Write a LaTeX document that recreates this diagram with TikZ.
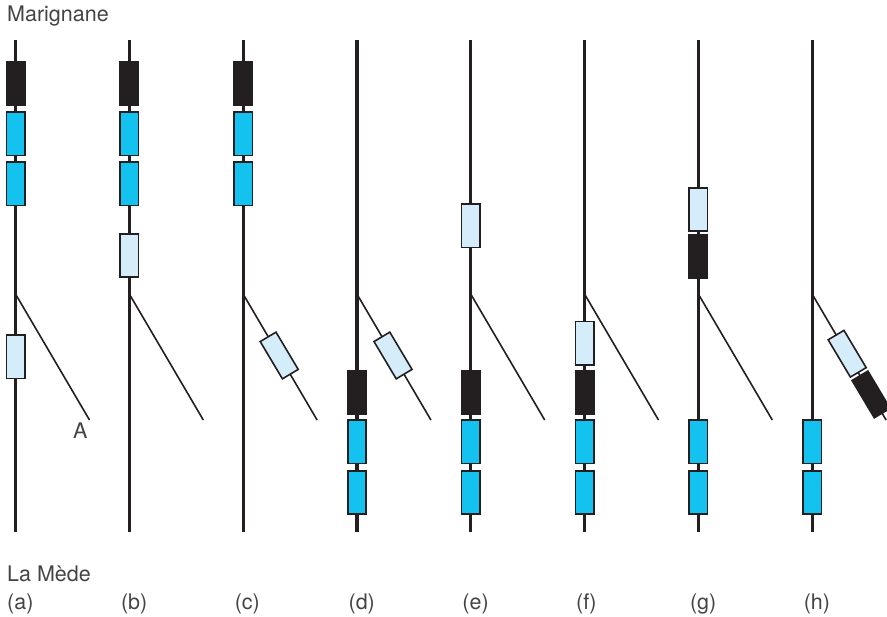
\documentclass[tikz,border=0pt]{standalone}
\usepackage{fontspec}
\setmainfont{TeX Gyre Heros}
\usetikzlibrary{calc}
\definecolor{trainblack}{HTML}{231F20}
\definecolor{trainblue}{HTML}{14C2F0}
\definecolor{trainlight}{HTML}{D5ECFA}
\definecolor{textgray}{HTML}{444444}
\begin{document}
\begin{tikzpicture}[x=1pt,y=-1pt,
  mainline/.style={line width=3.2pt, draw=trainblack},
  branchline/.style={line width=1.6pt, draw=trainblack},
  car/.style={draw=trainblack, line width=1.6pt, minimum width=18.4pt, minimum height=43.4pt, inner sep=0pt, outer sep=0pt},
  loco/.style={car, fill=trainblack},
  bluecar/.style={car, fill=trainblue},
  lightcar/.style={car, fill=trainlight},
  lbl/.style={anchor=base west, inner sep=0pt, text=textgray, font=\fontsize{21.5}{25}\selectfont},
  ]
\useasboundingbox (0,0) rectangle (887,617);

% track coordinates
\foreach \n/\x in {a/15.5,b/129.3,c/243.1,d/356.9,e/470.7,f/584.5,g/698.3,h/812.1}{
  \coordinate (\n-top) at (\x,40);
  \coordinate (\n-bot) at (\x,532);
  \coordinate (\n-bs) at (\x,294);
  \coordinate (\n-be) at (\x+74,420);
}
% lines
\foreach \n in {a,b,c,d,e,f,g,h}{
  \draw[mainline] (\n-top) -- (\n-bot);
  \draw[branchline] (\n-bs) -- (\n-be);
}

% (a)
\node[loco] (a1) at ($(a-top)+(0,44)$) {};
\node[bluecar] (a2) at ($(a-top)+(0,94)$) {};
\node[bluecar] (a3) at ($(a-top)+(0,144)$) {};
\node[lightcar] (a4) at ($(a-top)+(0,317)$) {};
% (b)
\node[loco] (b1) at ($(b-top)+(0,44)$) {};
\node[bluecar] (b2) at ($(b-top)+(0,94)$) {};
\node[bluecar] (b3) at ($(b-top)+(0,144)$) {};
\node[lightcar] (b4) at ($(b-top)+(0,215.5)$) {};
% (c)
\node[loco] (c1) at ($(c-top)+(0,44)$) {};
\node[bluecar] (c2) at ($(c-top)+(0,94)$) {};
\node[bluecar] (c3) at ($(c-top)+(0,144)$) {};
\node[lightcar, rotate=30.8] (c4) at ($(c-bs)!0.488!(c-be)$) {};
% (d)
\node[loco] (d1) at ($(d-top)+(0,352.5)$) {};
\node[bluecar] (d2) at ($(d-top)+(0,402)$) {};
\node[bluecar] (d3) at ($(d-top)+(0,452.5)$) {};
\node[lightcar, rotate=30.8] (d4) at ($(d-bs)!0.488!(d-be)$) {};
% (e)
\node[lightcar] (e4) at ($(e-top)+(0,186)$) {};
\node[loco] (e1) at ($(e-top)+(0,352.5)$) {};
\node[bluecar] (e2) at ($(e-top)+(0,402)$) {};
\node[bluecar] (e3) at ($(e-top)+(0,452.5)$) {};
% (f)
\node[lightcar] (f4) at ($(f-top)+(0,303.3)$) {};
\node[loco] (f1) at ($(f-top)+(0,352.5)$) {};
\node[bluecar] (f2) at ($(f-top)+(0,402)$) {};
\node[bluecar] (f3) at ($(f-top)+(0,452.5)$) {};
% (g)
\node[lightcar] (g4) at ($(g-top)+(0,169.5)$) {};
\node[loco] (g1) at ($(g-top)+(0,217)$) {};
\node[bluecar] (g2) at ($(g-top)+(0,402)$) {};
\node[bluecar] (g3) at ($(g-top)+(0,452.5)$) {};
% (h)
\node[bluecar] (h2) at ($(h-top)+(0,402)$) {};
\node[bluecar] (h3) at ($(h-top)+(0,452.5)$) {};
\node[lightcar, rotate=30.8] (h4) at ($(h-bs)!0.474!(h-be)$) {};
\node[loco, rotate=30.8] (h1) at ($(h-bs)!0.797!(h-be)$) {};

% labels
\node[lbl] (north) at (7,21.7) {Marignane};
\node[lbl] (south) at (7,582) {La Mède};
\node[lbl] (lA) at (73,439) {A};
\foreach \n [count=\i from 0] in {a,b,c,d,e,f,g,h}{
  \node[lbl] (lab-\n) at (7+113.8*\i,609) {(\n)};
}
\end{tikzpicture}
\end{document}
